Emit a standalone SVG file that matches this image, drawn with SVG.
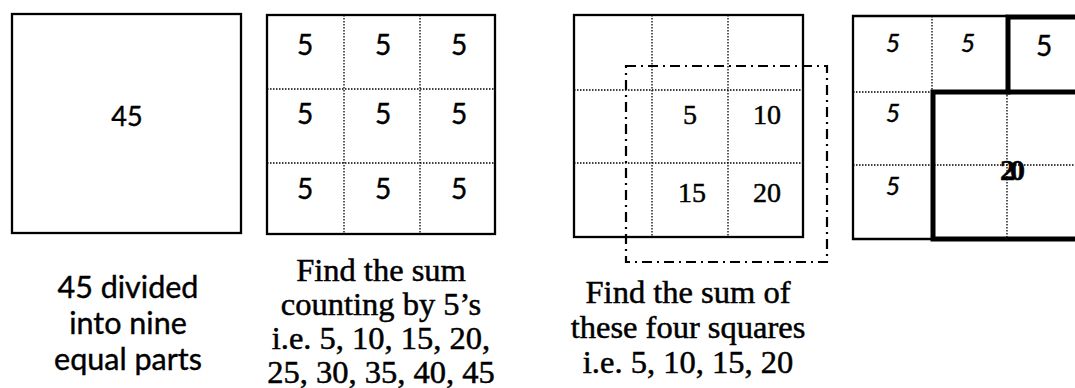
<svg xmlns="http://www.w3.org/2000/svg" width="1075" height="388" viewBox="0 0 1075 388">
<style>
.box{fill:#fff;stroke:#000;stroke-width:2.3}
.dot{stroke:#000;stroke-width:1.3;stroke-dasharray:1.5 1.5;fill:none}
.thick{stroke:#000;stroke-width:5;fill:none;stroke-linecap:square}
.thin{stroke:#000;stroke-width:2.3;fill:none}
.dd{stroke:#000;stroke-width:2.2;fill:none;stroke-dasharray:10 5 2 5}
.sans{font-family:Lato,"Open Sans",sans-serif;fill:#000;text-anchor:middle;stroke:#000;stroke-width:0.4}
.serif{font-family:"Liberation Serif","Times New Roman",serif;fill:#000;text-anchor:middle;stroke:#000;stroke-width:0.5}
.num{font-size:28px}
.it{font-size:25px;font-style:italic}
.cap{font-size:32.5px}
</style>
<rect width="1075" height="388" fill="#fff"/>

<g id="box1">
<rect class="box" x="12" y="14" width="229" height="219"/>
<text class="sans" x="127" y="126" font-size="27">45</text>
</g>

<g id="box2">
<rect class="box" x="267" y="15" width="228" height="219"/>
<line class="dot" x1="344" y1="15" x2="344" y2="234"/>
<line class="dot" x1="420" y1="15" x2="420" y2="234"/>
<line class="dot" x1="267" y1="89" x2="495" y2="89"/>
<line class="dot" x1="267" y1="163" x2="495" y2="163"/>
<g class="sans num">
<text x="305" y="55">5</text><text x="383" y="55">5</text><text x="459" y="55">5</text>
<text x="305" y="124">5</text><text x="383" y="124">5</text><text x="459" y="124">5</text>
<text x="305" y="199">5</text><text x="383" y="199">5</text><text x="459" y="199">5</text>
</g>
</g>

<g id="box3">
<rect class="box" x="574" y="15" width="229" height="222"/>
<line class="dot" x1="652" y1="15" x2="652" y2="237"/>
<line class="dot" x1="728" y1="15" x2="728" y2="237"/>
<line class="dot" x1="574" y1="90" x2="803" y2="90"/>
<line class="dot" x1="574" y1="163" x2="803" y2="163"/>
<g class="serif" font-size="28">
<text x="690" y="124">5</text><text x="767" y="124">10</text>
<text x="692" y="202">15</text><text x="767" y="202">20</text>
</g>
</g>

<g id="selection3">
<rect class="dd" x="626" y="66" width="201" height="196"/>
</g>

<g id="box4">
<rect x="853" y="16" width="230" height="223" fill="#fff"/>
<path class="thin" d="M1007,16 H853 V239 H932"/>
<line class="dot" x1="932" y1="16" x2="932" y2="92"/>
<line class="dot" x1="1007" y1="92" x2="1007" y2="239"/>
<line class="dot" x1="853" y1="92" x2="932" y2="92"/>
<line class="dot" x1="853" y1="165" x2="1075" y2="165"/>
<path class="thick" d="M1080,17 H1008 V92"/>
<path class="thick" d="M1080,92 H933 V239 H1080"/>
<g class="sans it">
<text x="893" y="52">5</text><text x="968" y="52">5</text>
<text x="893" y="122">5</text>
<text x="893" y="195">5</text>
</g>
<text class="sans num" x="1044" y="56">5</text>
<text class="serif" x="1010" y="180" font-size="30" font-weight="bold" letter-spacing="-5">20</text>
</g>

<g id="caption1" class="sans" font-size="30.5">
<text x="128" y="298">45 divided</text>
<text x="128" y="334">into nine</text>
<text x="128" y="370">equal parts</text>
</g>

<g id="caption2" class="serif cap">
<text x="381" y="281">Find the sum</text>
<text x="381" y="315">counting by 5’s</text>
<text x="381" y="349">i.e. 5, 10, 15, 20,</text>
<text x="381" y="383">25, 30, 35, 40, 45</text>
</g>

<g id="caption3" class="serif cap">
<text x="688" y="303">Find the sum of</text>
<text x="688" y="338">these four squares</text>
<text x="688" y="373">i.e. 5, 10, 15, 20</text>
</g>
</svg>
